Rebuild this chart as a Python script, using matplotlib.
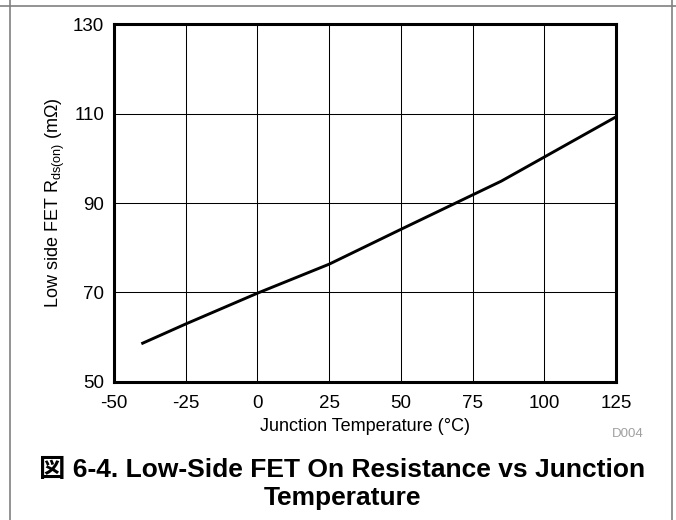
import matplotlib
matplotlib.use("Agg")
import matplotlib.pyplot as plt
from matplotlib.lines import Line2D

plt.rcParams['font.family'] = ['Liberation Sans', 'Noto Sans CJK JP', 'DejaVu Sans']
plt.rcParams['mathtext.fontset'] = 'custom'
plt.rcParams['mathtext.rm'] = 'Liberation Sans'
plt.rcParams['axes.unicode_minus'] = False

# --- data
temp_c = [-40, -25, 0, 25, 50, 85, 100, 125]
rds_on = [58.6, 62.9, 69.8, 76.3, 84.1, 94.9, 100.3, 109.3]

x_ticks = [-50, -25, 0, 25, 50, 75, 100, 125]
y_ticks = [50, 70, 90, 110, 130]

fig = plt.figure(figsize=(6.76, 5.2), dpi=100)
ax = fig.add_axes([0.1686, 0.2662, 0.9112 - 0.1686, 0.9529 - 0.2662])

ax.plot(temp_c, rds_on, color='black', linewidth=2.1, solid_joinstyle='miter')

ax.set_xlim(-50, 125)
ax.set_ylim(50, 130)
ax.set_xticks(x_ticks)
ax.set_yticks(y_ticks)
ax.grid(True, color='black', linewidth=0.75)
ax.set_axisbelow(True)
for s in ax.spines.values():
    s.set_linewidth(2.2)
ax.tick_params(length=0, labelsize=13.5)
ax.tick_params(axis='x', pad=10)
ax.tick_params(axis='y', pad=7)

ax.set_xlabel('Junction Temperature (°C)', fontsize=13, labelpad=4)
ax.set_ylabel(r'Low side FET R$_{\mathrm{ds(on)}}$ (mΩ)', fontsize=13, labelpad=4)

fig.text(644 / 676, 1 - 434 / 520, 'D004', fontsize=9.5, color='#a0a0a0',
         ha='right', va='center')

# caption: va='baseline' lines up the last line's baseline
fig.text(342 / 676, 1 - 505 / 520, '図 6-4. Low-Side FET On Resistance vs Junction\nTemperature',
         fontsize=19, fontweight='bold', ha='center', va='baseline',
         linespacing=1.22, multialignment='center')

# --- page frame around the figure
frame = dict(color='#808080', linewidth=1.2, transform=fig.transFigure)
fig.add_artist(Line2D([0, 1], [1 - 6 / 520, 1 - 6 / 520], **frame))
fig.add_artist(Line2D([10 / 676, 10 / 676], [0, 1], **frame))
fig.add_artist(Line2D([672 / 676, 672 / 676], [0, 1], **frame))

fig.savefig('out.png', dpi=100)
